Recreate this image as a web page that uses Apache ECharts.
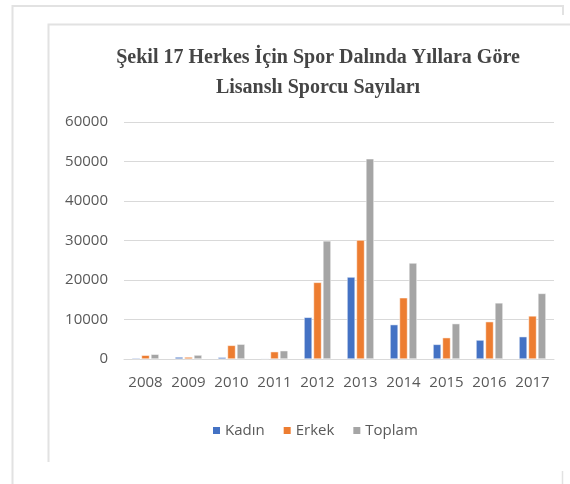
<!DOCTYPE html>
<html>
<head>
<meta charset="utf-8">
<script src="https://cdn.jsdelivr.net/npm/echarts@6/dist/echarts.min.js"></script>
<style>
html,body{margin:0;padding:0;background:#fff;}
#c{width:570px;height:484px;}
</style>
</head>
<body>
<div id="c"></div>
<script>
const years = ['2008','2009','2010','2011','2012','2013','2014','2015','2016','2017'];
const kadin = [250, 500, 450, 150, 10550, 20750, 8700, 3700, 4800, 5650];
const erkek = [950, 500, 3450, 1850, 19400, 30100, 15500, 5400, 9450, 10900];
const toplam = [1200, 1000, 3750, 2100, 29900, 50700, 24300, 8950, 14200, 16600];
const yTicks = {min: 0, max: 60000, interval: 10000};
const titleLines = ['Şekil 17 Herkes İçin Spor Dalında Yıllara Göre', 'Lisanslı Sporcu Sayıları'];
const seriesNames = ['Kadın', 'Erkek', 'Toplam'];

const chart = echarts.init(document.getElementById('c'), null, {renderer: 'canvas'});
const frame = '#e2e2e2';
const labelFont = "'Open Sans', 'Noto Sans', sans-serif";
function mkSeries(name, data, color) {
  return {
    name: name, type: 'bar', data: data, barWidth: 8, barGap: '18%',
    itemStyle: {color: color, borderColor: '#fff', borderWidth: 0.5}
  };
}
chart.setOption({
  animation: false,
  backgroundColor: '#fff',
  title: {
    text: titleLines.join('\n'),
    left: 313, textAlign: 'center', top: 38,
    textStyle: {fontFamily: "'Liberation Serif', 'Times New Roman', serif", fontWeight: 'bold', fontSize: 20, color: '#454545', lineHeight: 30}
  },
  graphic: [
    {type: 'polyline', shape: {points: [[12.5, 484], [12.5, 6], [563, 6], [563, 15]]}, style: {stroke: frame, lineWidth: 2, fill: null}},
    {type: 'polyline', shape: {points: [[48.5, 462], [48.5, 24.5], [570, 24.5]]}, style: {stroke: frame, lineWidth: 2, fill: null}},
    {type: 'line', shape: {x1: 562.5, y1: 471, x2: 562.5, y2: 484}, style: {stroke: frame, lineWidth: 1.5}}
  ],
  legend: {
    data: seriesNames, left: 211, top: 423, padding: 0,
    itemWidth: 9, itemHeight: 9, itemGap: 17, icon: 'rect',
    textStyle: {fontFamily: labelFont, fontSize: 15, color: '#595959', padding: [0, 0, 0, -1]}
  },
  grid: {left: 124, right: 16, top: 122, bottom: 125, containLabel: false},
  xAxis: {
    type: 'category', data: years,
    axisLine: {show: true, lineStyle: {color: '#d9d9d9', width: 1}},
    axisTick: {show: false},
    axisLabel: {fontFamily: labelFont, fontSize: 15, color: '#595959', margin: 16, interval: 0}
  },
  yAxis: {
    type: 'value', min: yTicks.min, max: yTicks.max, interval: yTicks.interval,
    axisLine: {show: false}, axisTick: {show: false},
    splitLine: {lineStyle: {color: '#d9d9d9', width: 1}},
    axisLabel: {fontFamily: labelFont, fontSize: 15, color: '#595959', margin: 16, formatter: function (v) { return String(v); }}
  },
  series: [
    mkSeries(seriesNames[0], kadin, '#4472C4'),
    mkSeries(seriesNames[1], erkek, '#ED7D31'),
    mkSeries(seriesNames[2], toplam, '#A5A5A5')
  ]
});
</script>
</body>
</html>
